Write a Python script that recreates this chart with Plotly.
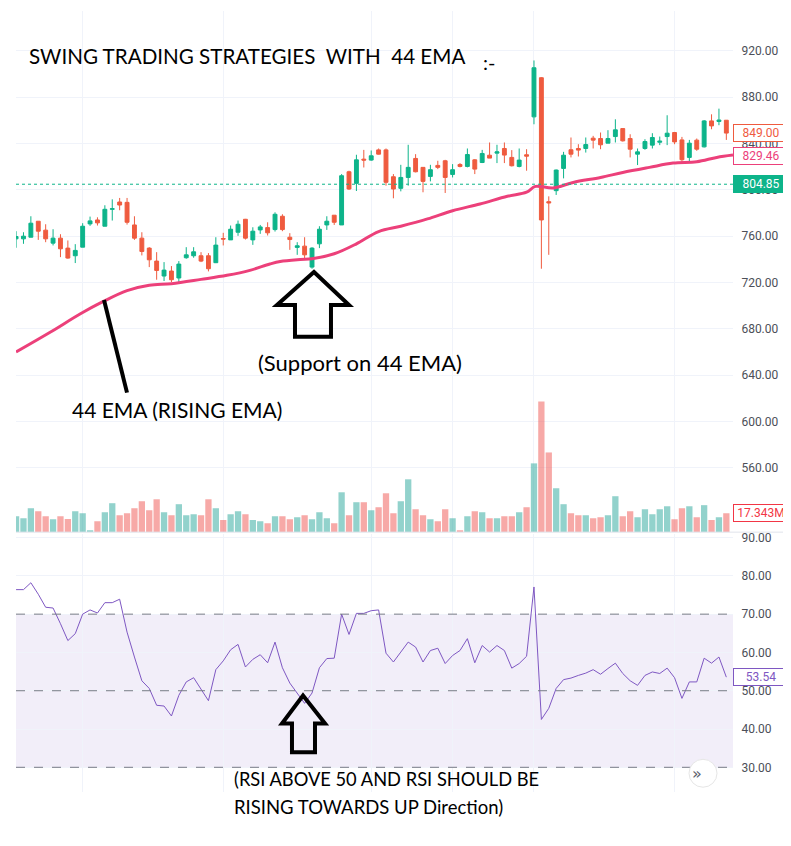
import plotly.graph_objects as go

# ---- data ----
idx = list(range(1, 98))

opens = [757.7, 757.7, 759.1, 772.9, 765.2, 754.0, 758.3, 749.7, 743.1, 750.5,
         770.6, 774.0, 768.6, 783.2, 789.5, 789.2, 769.7, 758.3, 749.7, 738.5,
         725.6, 729.9, 723.9, 741.4, 743.1, 743.1, 743.1, 737.1, 758.0, 756.8,
         763.4, 774.6, 756.8, 765.4, 767.4, 765.7, 777.2, 759.1, 750.3, 751.4,
         733.3, 753.4, 769.7, 778.1, 769.7, 815.6, 805.6, 826.5, 825.7, 834.5,
         834.5, 811.3, 801.3, 810.7, 827.1, 819.4, 811.6, 821.1, 825.1, 813.3,
         821.9, 820.2, 825.9, 823.6, 829.9, 831.7, 835.7, 828.0, 820.2, 830.3,
         863.0, 896.8, 789.8, 799.3, 818.5, 834.6, 835.7, 835.7, 844.6, 844.3,
         840.3, 846.0, 852.9, 844.3, 830.8, 835.7, 838.6, 841.1, 846.0, 849.5,
         843.1, 828.0, 842.9, 837.1, 859.5, 859.0, 860.1]
highs = [764.3, 763.4, 777.2, 772.9, 770.3, 766.0, 761.7, 756.3, 753.1, 771.2,
         776.9, 776.3, 786.7, 791.8, 793.0, 793.0, 777.2, 763.4, 750.5, 746.2,
         737.6, 734.2, 738.5, 750.5, 750.5, 746.2, 745.4, 759.1, 762.9, 769.2,
         773.5, 774.9, 767.7, 769.7, 772.0, 780.6, 778.9, 762.6, 754.8, 759.1,
         750.5, 768.6, 777.2, 778.1, 813.6, 816.5, 830.3, 834.5, 834.0, 835.7,
         835.7, 813.6, 821.6, 838.9, 830.8, 819.4, 821.6, 825.1, 825.9, 822.2,
         823.1, 835.7, 826.5, 834.5, 840.9, 838.9, 840.9, 834.3, 835.7, 835.1,
         911.7, 897.3, 794.4, 817.5, 832.8, 845.2, 839.4, 845.2, 846.6, 849.5,
         851.5, 860.9, 852.9, 848.0, 835.7, 843.7, 848.9, 846.0, 864.4, 850.0,
         845.7, 843.1, 844.3, 860.3, 865.2, 870.1, 860.3]
lows = [750.0, 753.4, 759.1, 756.8, 754.8, 752.0, 741.9, 740.5, 736.8, 750.5,
        768.9, 769.2, 768.6, 773.5, 782.4, 770.0, 756.8, 743.4, 733.3, 722.4,
        721.3, 720.4, 719.8, 740.5, 741.4, 737.6, 729.6, 736.8, 752.0, 756.8,
        760.3, 757.1, 752.5, 762.0, 760.6, 764.0, 764.3, 748.2, 743.9, 740.5,
        731.9, 749.7, 765.4, 769.7, 769.7, 799.9, 799.0, 819.3, 825.1, 830.5,
        803.6, 792.7, 798.7, 803.6, 815.1, 797.9, 807.3, 817.9, 797.3, 810.7,
        819.4, 819.4, 813.6, 823.1, 827.4, 823.1, 823.1, 820.2, 819.4, 816.5,
        856.6, 731.9, 743.9, 795.6, 809.9, 828.0, 828.8, 832.2, 835.7, 835.1,
        840.3, 840.9, 841.7, 828.0, 821.4, 834.6, 835.7, 838.6, 838.6, 839.4,
        823.7, 824.5, 833.7, 836.6, 852.3, 855.8, 843.1]
closes = [759.7, 760.0, 771.2, 764.3, 757.7, 758.3, 749.1, 741.1, 747.7, 768.6,
          773.2, 771.5, 783.2, 783.7, 786.9, 772.0, 758.3, 746.8, 739.6, 730.4,
          730.7, 722.4, 735.9, 743.9, 746.5, 738.5, 731.9, 752.3, 757.5, 766.0,
          770.3, 758.3, 764.3, 768.0, 762.9, 778.9, 765.7, 757.1, 751.7, 743.9,
          749.7, 766.0, 772.9, 772.0, 812.2, 800.7, 825.9, 825.7, 829.4, 830.8,
          806.5, 800.7, 810.7, 819.4, 815.6, 807.3, 817.4, 819.4, 810.7, 817.4,
          820.2, 830.5, 817.9, 831.4, 827.4, 832.8, 830.0, 820.8, 825.7, 829.1,
          905.4, 774.0, 788.7, 817.1, 829.9, 830.8, 834.3, 839.1, 842.9, 838.9,
          844.3, 851.8, 842.3, 835.1, 832.8, 841.7, 845.2, 842.0, 848.9, 841.4,
          826.0, 840.3, 835.1, 859.5, 855.2, 860.3, 849.0]

# volume in millions
volume = [14.6, 12.8, 21.9, 19.2, 14.6, 11.9, 14.6, 12.1, 19.2, 17.3,
          1.8, 10.0, 18.3, 26.5, 15.5, 17.3, 21.9, 28.3, 20.1, 30.1,
          18.3, 15.5, 25.6, 15.5, 16.4, 15.5, 30.1, 21.9, 11.0, 16.4,
          19.2, 16.4, 11.0, 10.0, 8.2, 14.6, 14.6, 11.9, 13.7, 15.5,
          11.9, 18.3, 12.8, 8.2, 36.5, 15.5, 27.4, 27.4, 20.1, 22.8,
          35.6, 17.3, 28.3, 48.4, 21.0, 15.5, 11.9, 10.0, 21.0, 12.8,
          1.8, 14.6, 19.2, 18.3, 12.8, 12.8, 14.6, 14.6, 18.3, 22.8,
          63.0, 119.6, 73.0, 40.2, 25.6, 17.3, 15.5, 15.5, 12.8, 13.7,
          15.5, 32.9, 14.6, 19.2, 13.7, 21.0, 16.4, 21.0, 23.7, 11.9,
          21.9, 23.7, 13.7, 24.7, 11.0, 13.7, 17.343]

ema_idx = [1, 5.6, 9.7, 12.6, 16, 19, 22, 26, 29.5, 32.6, 35.3, 36.7, 39.4, 41,
           44, 47, 50, 53, 56.6, 60, 63.7, 67.4, 70, 71.2, 73.6, 76.3, 80, 83,
           86.6, 89.8, 93, 95.7, 97.9]
ema_val = [660, 677, 693, 703, 713, 717.6, 719, 722.7, 726.2, 730.5, 736, 738.2,
           739.9, 740.5, 744.8, 753.4, 764, 768.6, 774.9, 782, 787.8, 794.4, 798,
           803, 801.6, 806.4, 810.7, 815, 819.4, 823.1, 824.2, 828, 830]

rsi = [76.4, 76.4, 78.2, 75.2, 71.8, 71.6, 67.5, 63.1, 64.9, 70.0,
       71.1, 70.3, 73.0, 73.0, 73.9, 65.3, 58.8, 52.6, 50.6, 46.2,
       46.0, 43.4, 48.8, 52.3, 53.4, 50.3, 47.4, 55.5, 57.8, 60.7,
       62.1, 56.2, 58.2, 59.4, 57.3, 62.7, 56.0, 52.0, 49.4, 46.7,
       49.4, 56.0, 58.4, 58.5, 70.0, 64.7, 70.2, 70.2, 70.9, 71.1,
       59.8, 57.5, 60.1, 62.7, 61.4, 57.5, 60.5, 61.1, 57.1, 59.2,
       60.5, 63.6, 57.3, 61.8, 60.1, 61.8, 60.5, 55.9, 57.1, 59.0,
       77.1, 42.5, 45.4, 50.6, 52.9, 53.3, 54.0, 54.6, 55.5, 54.3,
       55.8, 57.2, 54.5, 52.6, 51.4, 54.0, 54.9, 54.5, 55.9, 53.4,
       48.0, 52.3, 52.3, 58.5, 57.2, 58.8, 53.54]

price_ticks = [560, 600, 640, 680, 720, 760, 800, 840, 880, 920]
rsi_ticks = [30, 40, 50, 60, 70, 80, 90]
month_lines = [10, 29, 49, 60, 71, 90]

last_price = 849.00
ema_last = 829.46
ref_line = 804.85
vol_last = 17.343
rsi_last = 53.54

UP = "#0db48a"
DOWN = "#ef5b3f"
EMA_C = "#ec407a"
RSI_C = "#7e57c2"
GRID = "#f0f3fa"
# the page body adds an 8px margin, so the figure is 8px smaller and
# positions below are given in screen pixels of the reference
OFF = 8
W, H = 791 - OFF, 846 - OFF
L, R = 16 - OFF, 58


def px(x):  # screen pixel -> paper x
    return (x - OFF - L) / (W - L - R)


def py(y):  # screen pixel -> paper y
    return 1 - (y - OFF) / H


vol_colors = ["rgba(38,166,154,0.5)" if c >= o else "rgba(239,83,80,0.5)"
              for o, c in zip(opens, closes)]

fig = go.Figure()
fig.add_trace(go.Bar(x=idx, y=volume, marker_color=vol_colors, marker_line_width=0,
                     width=0.85, xaxis="x", yaxis="y3"))
fig.add_trace(go.Candlestick(x=idx, open=opens, high=highs, low=lows, close=closes,
                             increasing=dict(line=dict(color=UP, width=1), fillcolor=UP),
                             decreasing=dict(line=dict(color=DOWN, width=1), fillcolor=DOWN),
                             whiskerwidth=0, xaxis="x", yaxis="y"))
fig.add_trace(go.Scatter(x=ema_idx, y=ema_val, mode="lines", line=dict(color=EMA_C, width=3, shape="spline"),
                         xaxis="x", yaxis="y"))
fig.add_trace(go.Scatter(x=idx, y=rsi, mode="lines", line=dict(color=RSI_C, width=1),
                         xaxis="x2", yaxis="y2"))

tickfont = dict(family="Roboto", size=12, color="#4c4f58")
xcommon = dict(range=[0.99, 97.9], tickvals=month_lines, showticklabels=False,
               gridcolor=GRID, zeroline=False, showline=False, ticks="")
fig.update_layout(
    width=W, height=H, margin=dict(l=L, r=R, t=0, b=0),
    paper_bgcolor="white", plot_bgcolor="white", showlegend=False, boxgap=0.25,
    xaxis=dict(anchor="y", domain=[0, 1], rangeslider=dict(visible=False), **xcommon),
    xaxis2=dict(anchor="y2", domain=[0, 1], matches="x", **xcommon),
    yaxis=dict(domain=[py(531), 1], range=[504.5, 954.4], side="right",
               tickvals=price_ticks, ticktext=["%.2f" % v for v in price_ticks],
               gridcolor=GRID, zeroline=False, tickfont=tickfont,
               ticks="outside", ticklen=5, tickcolor="rgba(0,0,0,0)"),
    yaxis3=dict(overlaying="y", range=[0, 477.5], visible=False),
    yaxis2=dict(domain=[py(792), py(533)], range=[23.5, 90.9], side="right",
                tickvals=rsi_ticks, ticktext=["%.2f" % v for v in rsi_ticks],
                gridcolor=GRID, zeroline=False, tickfont=tickfont,
                ticks="outside", ticklen=5, tickcolor="rgba(0,0,0,0)"),
)

shapes = [
    dict(type="line", xref="paper", yref="paper", x0=0, x1=px(791), y0=py(531), y1=py(531),
         line=dict(color="#e0e3eb", width=1)),
    dict(type="line", xref="paper", yref="y", x0=0, x1=1, y0=ref_line, y1=ref_line,
         line=dict(color="#0db48a", width=1, dash="dot")),
    dict(type="rect", xref="paper", yref="y2", x0=0, x1=1, y0=30, y1=70,
         fillcolor="rgba(126,87,194,0.1)", line_width=0, layer="below"),
]
for lvl in (70, 50, 30):
    shapes.append(dict(type="line", xref="paper", yref="y2", x0=0, x1=1, y0=lvl, y1=lvl,
                       line=dict(color="#787b86", width=1, dash="dash")))


def arrow(pts):
    d = "M " + " L ".join("%.4f,%.4f" % (px(a), py(b)) for a, b in pts) + " Z"
    return dict(type="path", xref="paper", yref="paper", path=d,
                line=dict(color="black", width=4), fillcolor="rgba(0,0,0,0)")


shapes.append(arrow([(314, 270), (349, 303), (331, 303), (331, 335), (295, 335), (295, 303), (277, 303)]))
shapes.append(arrow([(303, 695), (325, 723), (315, 723), (315, 752), (292, 752), (292, 723), (282, 723)]))
shapes.append(dict(type="line", xref="paper", yref="paper", x0=px(104), y0=py(298), x1=px(127), y1=py(391),
                   line=dict(color="black", width=4)))
shapes.append(dict(type="circle", xref="paper", yref="paper", x0=px(689), x1=px(717), y0=py(759), y1=py(787),
                   fillcolor="white", line=dict(color="#e6e6e6", width=1)))
fig.update_layout(shapes=shapes)

notes = [
    ("SWING TRADING STRATEGIES  WITH  44 EMA", 27, 53, 20.6),
    (":-", 481, 59, 20),
    ("(Support on 44 EMA)", 256, 361, 22),
    ("44 EMA (RISING EMA)", 70, 408, 21),
    ("(RSI ABOVE 50 AND RSI SHOULD BE", 232, 779, 18.3),
    ("RISING TOWARDS UP Direction)", 232, 807, 18.5),
]
for text, x, y, size in notes:
    fig.add_annotation(text=text, xref="paper", yref="paper", x=px(x), y=py(y),
                       xanchor="left", yanchor="middle", showarrow=False,
                       font=dict(family="Lato", size=size, color="black"))

fig.add_annotation(text="»", xref="paper", yref="paper", x=px(704), y=py(773),
                   yanchor="middle", showarrow=False,
                   font=dict(family="DejaVu Sans", size=16, color="#5d606b"))

tags = [
    ("%.2f" % last_price, "y", last_price, DOWN, "white", DOWN),
    ("%.2f" % ema_last, "y", ema_last, EMA_C, "white", EMA_C),
    ("%.2f" % ref_line, "y", ref_line, "white", UP, UP),
    ("%.3fM" % vol_last, "y3", vol_last, "#f23645", "white", "#f23645"),
    ("%.2f" % rsi_last, "y2", rsi_last, RSI_C, "white", RSI_C),
]
for text, yref, yv, fc, bg, bc in tags:
    fig.add_annotation(text=text, xref="paper", yref=yref, x=1, y=yv, xanchor="left",
                       xshift=0, showarrow=False, bgcolor=bg, bordercolor=bc, borderwidth=1,
                       width=54, height=16, borderpad=0,
                       font=dict(family="Roboto", size=12, color=fc))

fig.write_html("out.html")
